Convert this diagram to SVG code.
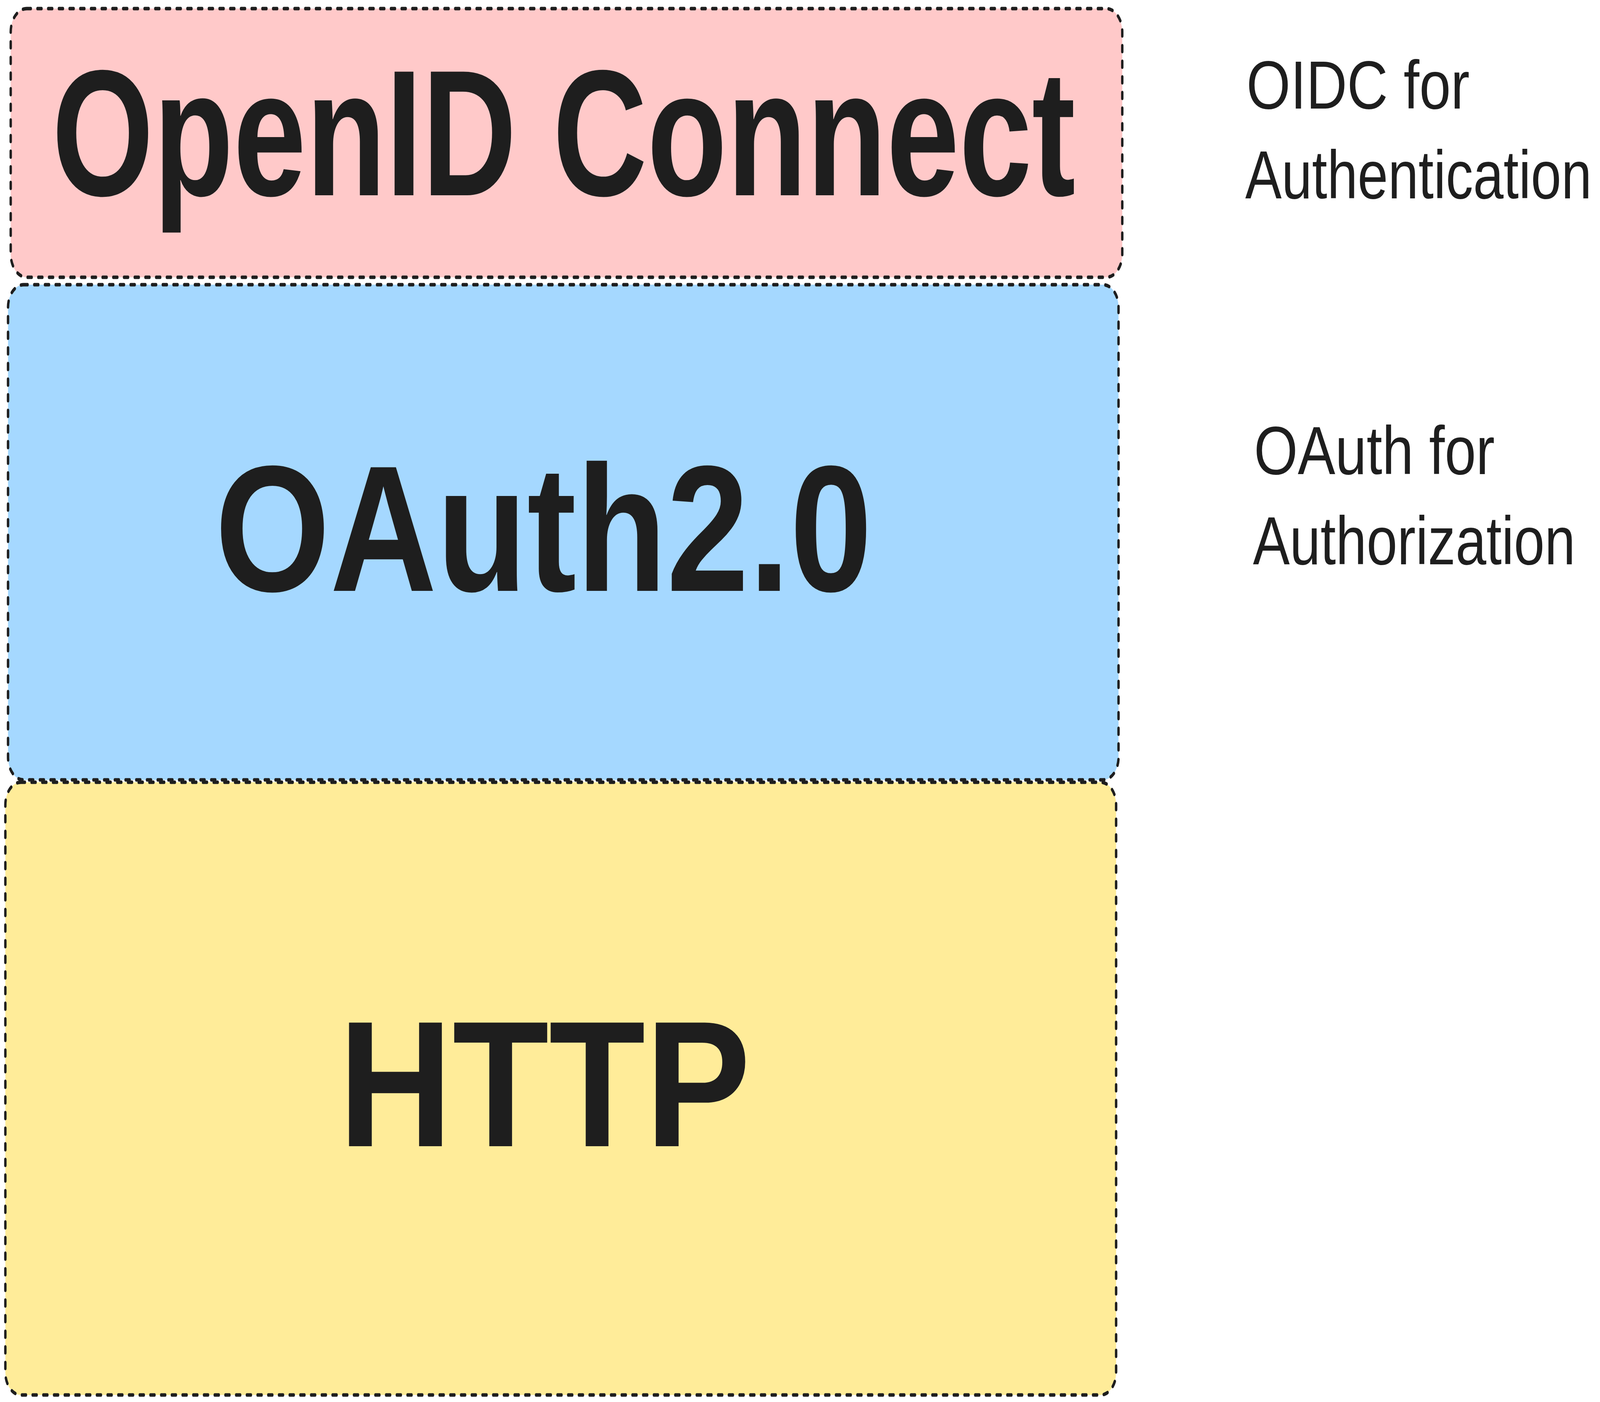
<svg xmlns="http://www.w3.org/2000/svg" width="5975" height="3590" viewBox="0 0 5975 3590" preserveAspectRatio="none">
<style>
:root{width:100vw;height:100vh}
.box{stroke:#1e1e1e;stroke-width:9;stroke-dasharray:15 25;stroke-linecap:round;stroke-linejoin:round}
.big{font-family:"Liberation Sans",Arial,sans-serif;font-weight:bold;font-size:460px;fill:#1e1e1e}
.side{font-family:"Liberation Sans",Arial,sans-serif;font-size:175px;fill:#1e1e1e}
</style>
<rect width="5975" height="3590" fill="#ffffff"/>
<g id="oidc">
<rect class="box" x="40" y="22" width="4151" height="688" rx="60" fill="#ffc9c9"/>
<text class="big" x="194" y="500" textLength="3822" lengthAdjust="spacingAndGlyphs">OpenID Connect</text>
</g>
<g id="oauth">
<rect class="box" x="30" y="729" width="4147" height="1268" rx="58" fill="#a5d8ff"/>
<text class="big" x="803" y="1513" textLength="2454" lengthAdjust="spacingAndGlyphs">OAuth2.0</text>
</g>
<g id="http">
<rect class="box" x="20" y="2003" width="4148" height="1569" rx="58" fill="#ffec99"/>
<text class="big" x="1264" y="2935" textLength="1539" lengthAdjust="spacingAndGlyphs">HTTP</text>
</g>
<g id="oidc-label">
<text class="side" x="4655" y="278" textLength="833" lengthAdjust="spacingAndGlyphs">OIDC for</text>
<text class="side" x="4650" y="508" textLength="1294" lengthAdjust="spacingAndGlyphs">Authentication</text>
</g>
<g id="oauth-label">
<text class="side" x="4683" y="1214" textLength="899" lengthAdjust="spacingAndGlyphs">OAuth for</text>
<text class="side" x="4679" y="1445" textLength="1204" lengthAdjust="spacingAndGlyphs">Authorization</text>
</g>
<g id="connectors"></g>
</svg>
